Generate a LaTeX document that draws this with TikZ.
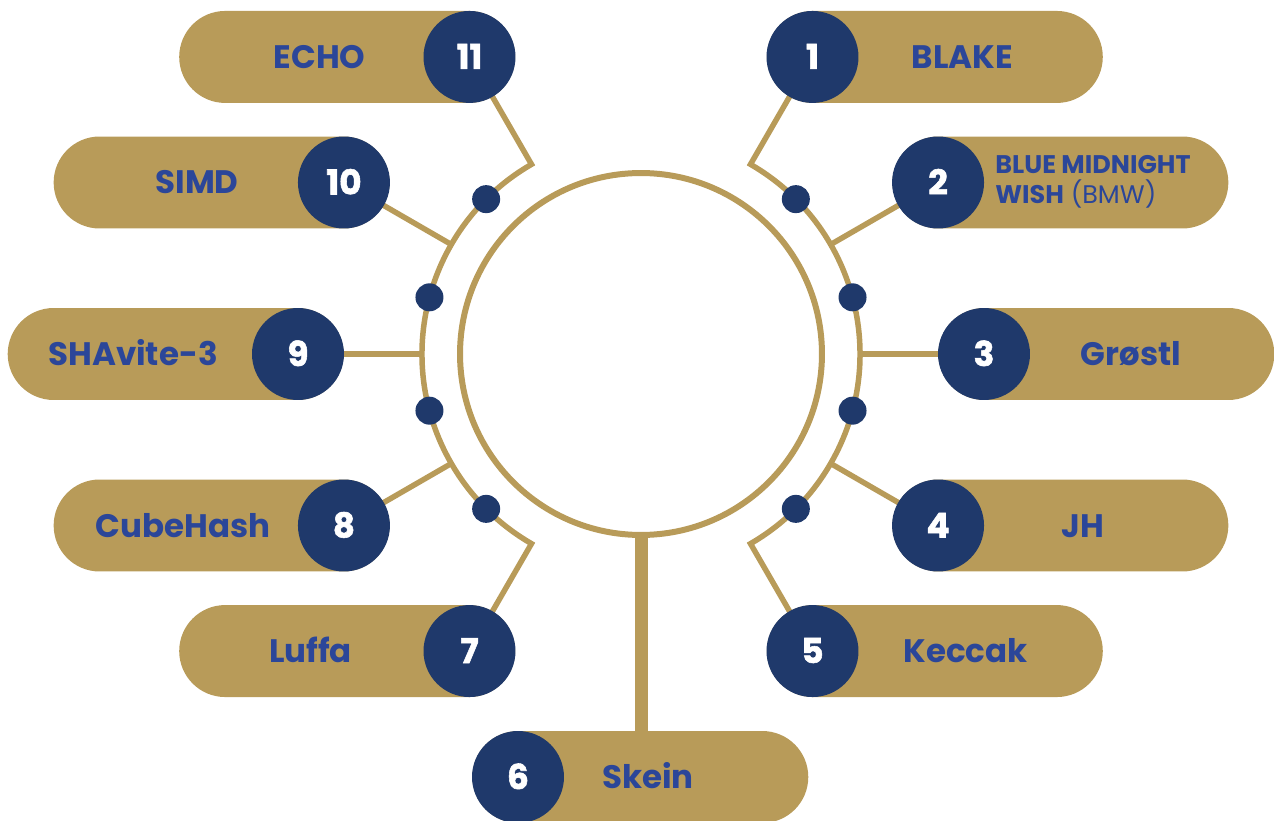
\documentclass[tikz,border=0pt]{standalone}
\usepackage{fontspec}
\setmainfont{Poppins}
\newfontfamily\numfont{Poppins Bold}[AutoFakeBold=1.6]
\usepackage{tikz}
\usetikzlibrary{positioning,calc}
\definecolor{gold}{HTML}{B89B59}
\definecolor{navy}{HTML}{1F396B}
\definecolor{inkblue}{HTML}{2B4699}

\begin{document}
\begin{tikzpicture}[x=0.02cm, y=0.02cm,
    wire/.style={draw=gold, line width=0.11cm},
    pill/.style={rectangle, fill=gold, rounded corners=0.92cm, minimum width=6.72cm, minimum height=1.84cm, inner sep=0pt},
    badge/.style={circle, fill=navy, minimum size=1.84cm, inner sep=0pt, text=white, text height=0.48cm, text depth=0pt, font=\numfont\bfseries\fontsize{19.5}{19.5}\selectfont},
    hashname/.style={text=inkblue, text height=0.46cm, text depth=0pt, inner sep=0pt, font=\bfseries\fontsize{18.5}{18.5}\selectfont},
    joint/.style={circle, fill=navy, minimum size=0.56cm, inner sep=0pt}]

    \useasboundingbox (-641,-467) rectangle (633,354);

    % ================= BADGE POSITIONS =================
    \coordinate (p1) at (60:343);
    \coordinate (p2) at (30:343);
    \coordinate (p3) at (0:343);
    \coordinate (p4) at (-30:343);
    \coordinate (p5) at (-60:343);
    \coordinate (p6) at (-123,-423);
    \coordinate (p7) at (240:343);
    \coordinate (p8) at (210:343);
    \coordinate (p9) at (180:343);
    \coordinate (p10) at (150:343);
    \coordinate (p11) at (120:343);

    % ================= HUB =================
    \node[circle, draw=gold, line width=0.12cm, minimum size=7.24cm, inner sep=0pt] (hub) at (0,0) {};

    % Outer arcs with their end legs
    \draw[wire] (p11) -- (120:219) arc[start angle=120, end angle=240, radius=219] -- (p7);
    \draw[wire] (p1) -- (60:219) arc[start angle=60, end angle=-60, radius=219] -- (p5);

    % Spokes
    \draw[wire] (150:219) -- (p10);
    \draw[wire] (180:219) -- (p9);
    \draw[wire] (210:219) -- (p8);
    \draw[wire] (30:219) -- (p2);
    \draw[wire] (0:219) -- (p3);
    \draw[wire] (-30:219) -- (p4);

    % Joints on the arcs
    \foreach \a in {135,165,195,225,45,15,-15,-45}
        \node[joint] (joint\a) at (\a:219) {};

    % ================= RIGHT PILLS =================
    \node[pill, anchor=west, xshift=-0.92cm] (pill1) at (p1) {};
    \node[pill, anchor=west, xshift=-0.92cm] (pill2) at (p2) {};
    \node[pill, anchor=west, xshift=-0.92cm] (pill3) at (p3) {};
    \node[pill, anchor=west, xshift=-0.92cm] (pill4) at (p4) {};
    \node[pill, anchor=west, xshift=-0.92cm] (pill5) at (p5) {};
    \node[pill, anchor=west, xshift=-0.92cm] (pill6) at (p6) {};

    % Bottom stem to Skein
    \draw[draw=gold, line width=0.26cm] (hub.south) -- (hub.south |- pill6.north);

    % ================= LEFT PILLS =================
    \node[pill, anchor=east, xshift=0.92cm] (pill7) at (p7) {};
    \node[pill, anchor=east, xshift=0.92cm] (pill8) at (p8) {};
    \node[pill, anchor=east, xshift=0.92cm] (pill9) at (p9) {};
    \node[pill, anchor=east, xshift=0.92cm] (pill10) at (p10) {};
    \node[pill, anchor=east, xshift=0.92cm] (pill11) at (p11) {};

    % ================= BADGES =================
    \node[badge] (b1) at (p1) {1};
    \node[badge] (b2) at (p2) {2};
    \node[badge] (b3) at (p3) {3};
    \node[badge] (b4) at (p4) {4};
    \node[badge] (b5) at (p5) {5};
    \node[badge] (b6) at (p6) {6};
    \node[badge] (b7) at (p7) {7};
    \node[badge] (b8) at (p8) {8};
    \node[badge] (b9) at (p9) {9};
    \node[badge] (b10) at (p10) {10};
    \node[badge] (b11) at (p11) {11};

    % ================= NAMES =================
    \node[hashname] (n1) at ([xshift=3.0cm]p1) {BLAKE};
    \node[hashname, anchor=west, align=left, text height=, text depth=, font=\fontsize{14.5}{17}\selectfont] (n2) at ([xshift=1.14cm, yshift=0.02cm]p2) {\textbf{BLUE MIDNIGHT}\\\textbf{WISH} (BMW)};
    \node[hashname] (n3) at ([xshift=2.94cm]p3) {Grøstl};
    \node[hashname] (n4) at ([xshift=2.9cm]p4) {JH};
    \node[hashname] (n5) at ([xshift=3.06cm]p5) {Keccak};
    \node[hashname] (n6) at ([xshift=2.6cm]p6) {Skein};
    \node[hashname] (n7) at ([xshift=-3.18cm]p7) {Luffa};
    \node[hashname] (n8) at ([xshift=-3.22cm]p8) {CubeHash};
    \node[hashname] (n9) at ([xshift=-3.3cm]p9) {SHAvite-3};
    \node[hashname] (n10) at ([xshift=-2.94cm]p10) {SIMD};
    \node[hashname] (n11) at ([xshift=-3.0cm]p11) {ECHO};

\end{tikzpicture}
\end{document}
